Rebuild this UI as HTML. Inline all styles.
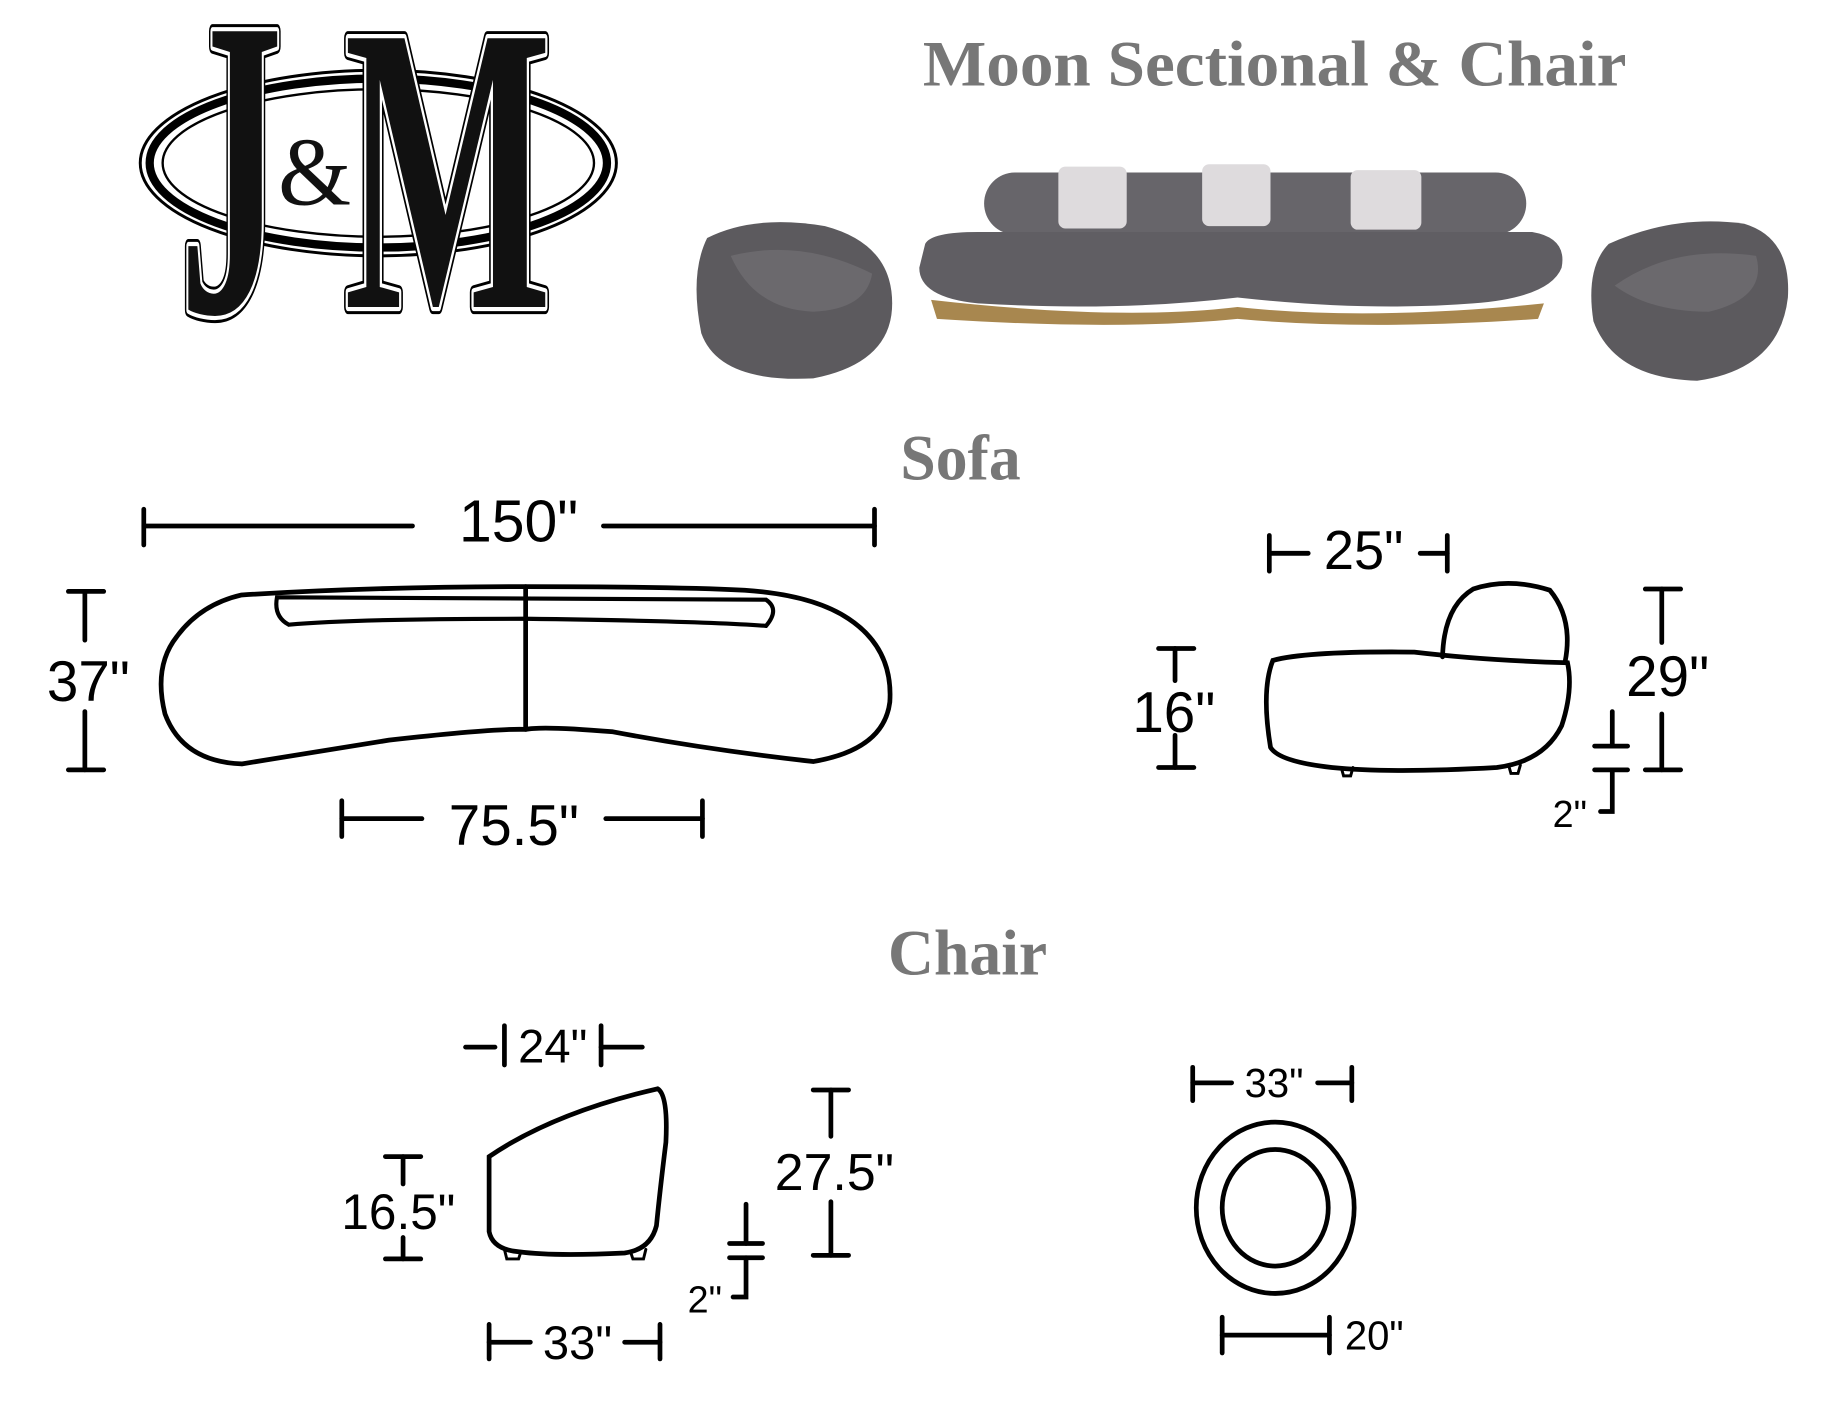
<!DOCTYPE html>
<html><head><meta charset="utf-8"><style>
html,body{margin:0;padding:0;background:#fff;}
svg{display:block}
</style></head><body>
<svg width="1848" height="1416" viewBox="0 0 1568 1190" preserveAspectRatio="none" xmlns="http://www.w3.org/2000/svg">
<rect width="1568" height="1190" fill="#fff"/>
<!-- Logo -->
<g>
<ellipse cx="321" cy="137" rx="202" ry="78" fill="#fff" stroke="#000" stroke-width="2.5"/>
<ellipse cx="321" cy="137" rx="194" ry="71" fill="none" stroke="#000" stroke-width="7"/>
<ellipse cx="321" cy="137" rx="183" ry="62" fill="#fff" stroke="#000" stroke-width="2"/>
<g font-family="Liberation Serif, serif" font-weight="bold">
<text x="152" y="262" font-size="360" textLength="88" lengthAdjust="spacingAndGlyphs" fill="#000" stroke="#000" stroke-width="12" stroke-linejoin="round">J</text>
<text x="152" y="262" font-size="360" textLength="88" lengthAdjust="spacingAndGlyphs" fill="#fff" stroke="#fff" stroke-width="7" stroke-linejoin="round">J</text>
<text x="152" y="262" font-size="360" textLength="88" lengthAdjust="spacingAndGlyphs" fill="#111">J</text>
<text x="292" y="258" font-size="345" textLength="176" lengthAdjust="spacingAndGlyphs" fill="#000" stroke="#000" stroke-width="12" stroke-linejoin="round">M</text>
<text x="292" y="258" font-size="345" textLength="176" lengthAdjust="spacingAndGlyphs" fill="#fff" stroke="#fff" stroke-width="7" stroke-linejoin="round">M</text>
<text x="292" y="258" font-size="345" textLength="176" lengthAdjust="spacingAndGlyphs" fill="#111">M</text>
</g>
<text x="236" y="172" font-family="Liberation Serif, serif" font-size="82" fill="#111" textLength="62" lengthAdjust="spacingAndGlyphs">&amp;</text>
</g>
<!-- Title -->
<text x="783" y="72" textLength="597" lengthAdjust="spacingAndGlyphs" font-family="Liberation Serif, serif" font-weight="bold" font-size="54" fill="#777">Moon Sectional &amp; Chair</text>
<!-- Photos -->
<g>
<path d="M600 200 Q640 180 700 190 Q757 205 757 255 Q757 305 690 318 Q610 322 595 280 Q585 230 600 200Z" fill="#5c5a5e"/>
<path d="M620 215 Q680 200 740 230 Q735 260 690 262 Q640 260 620 215Z" fill="#6b696d"/>
<path d="M1365 205 Q1420 180 1480 188 Q1520 200 1517 250 Q1510 310 1440 320 Q1370 318 1352 270 Q1345 225 1365 205Z" fill="#5c5a5e"/>
<path d="M1370 240 Q1420 205 1490 215 Q1500 250 1450 262 Q1400 262 1370 240Z" fill="#6b696d"/>
<rect x="835" y="145" width="460" height="52" rx="26" fill="#67656a"/>
<path d="M785 205 Q790 195 830 195 L1300 195 Q1330 200 1325 225 Q1315 250 1250 255 Q1160 262 1050 250 Q950 262 830 255 Q780 250 780 225Z" fill="#605e63"/>
<path d="M790 252 Q950 270 1050 258 Q1160 270 1310 255 L1305 268 Q1160 278 1050 268 Q950 278 795 268Z" fill="#a8874f"/>
<rect x="898" y="140" width="58" height="52" fill="#dedbdd" rx="6"/>
<rect x="1020" y="138" width="58" height="52" fill="#dedbdd" rx="6"/>
<rect x="1146" y="143" width="60" height="50" fill="#dedbdd" rx="6"/>
</g>
<g font-family="Liberation Serif, serif" font-weight="bold" fill="#777" text-anchor="middle">
<text x="815" y="403" font-size="54">Sofa</text>
<text x="821" y="819" font-size="54">Chair</text>
</g>
<g stroke="#000" stroke-width="4" fill="none" stroke-linecap="round">
<!-- 150 -->
<line x1="122" y1="428" x2="122" y2="458"/><line x1="742" y1="428" x2="742" y2="458"/>
<line x1="122" y1="442" x2="350" y2="442"/><line x1="512" y1="442" x2="742" y2="442"/>
<!-- sofa top -->
<path d="M205 500 Q320 493 446 493 Q570 493 632 496 Q690 500 720 520 Q758 545 755 590 Q750 630 690 640 Q600 630 520 615 Q460 610 446 613 Q420 612 330 622 Q250 635 205 642 Q155 640 140 600 Q130 560 150 535 Q170 508 205 500Z"/>
<path d="M235 502 L650 504 Q662 512 650 526 Q600 522 446 520 Q300 520 245 525 Q232 518 235 502Z" stroke-width="3.5"/>
<line x1="446" y1="493" x2="446" y2="613"/>
<!-- 37 -->
<line x1="58" y1="497" x2="88" y2="497"/><line x1="58" y1="647" x2="88" y2="647"/>
<line x1="72" y1="497" x2="72" y2="538"/><line x1="72" y1="598" x2="72" y2="647"/>
<!-- 75.5 -->
<line x1="290" y1="673" x2="290" y2="703"/><line x1="596" y1="673" x2="596" y2="703"/>
<line x1="290" y1="688" x2="358" y2="688"/><line x1="514" y1="688" x2="596" y2="688"/>
<!-- 25 -->
<line x1="1077" y1="450" x2="1077" y2="480"/><line x1="1228" y1="450" x2="1228" y2="480"/>
<line x1="1077" y1="465" x2="1110" y2="465"/><line x1="1205" y1="465" x2="1228" y2="465"/>
<!-- side sofa -->
<path d="M1224 552 Q1225 510 1250 495 Q1280 485 1315 496 Q1335 520 1328 556"/>
<path d="M1080 555 Q1110 547 1200 548 Q1260 555 1330 557 Q1335 580 1325 610 Q1310 640 1270 645 Q1180 650 1130 645 Q1085 640 1078 628 Q1070 580 1080 555Z"/>
<path d="M1138 645 L1140 652 L1146 652 L1148 645 M1280 643 L1282 650 L1288 650 L1290 643" stroke-width="2.5"/>
<!-- 29 -->
<line x1="1396" y1="495" x2="1426" y2="495"/><line x1="1396" y1="647" x2="1426" y2="647"/>
<line x1="1410" y1="495" x2="1410" y2="540"/><line x1="1410" y1="600" x2="1410" y2="647"/>
<!-- 16 -->
<line x1="983" y1="545" x2="1013" y2="545"/><line x1="983" y1="645" x2="1013" y2="645"/>
<line x1="997" y1="545" x2="997" y2="572"/><line x1="997" y1="618" x2="997" y2="645"/>
<!-- 2 side -->
<line x1="1353" y1="627" x2="1381" y2="627"/><line x1="1353" y1="647" x2="1381" y2="647"/>
<line x1="1368" y1="598" x2="1368" y2="627"/><path d="M1368 647 L1368 682 L1358 682"/>
<!-- 24 -->
<line x1="395" y1="880" x2="420" y2="880"/><line x1="428" y1="862" x2="428" y2="895"/>
<line x1="510" y1="862" x2="510" y2="895"/><line x1="510" y1="880" x2="545" y2="880"/>
<!-- chair side -->
<path d="M415 972 Q470 935 558 915 Q567 920 565 960 Q560 1000 557 1030 Q552 1050 530 1053 Q470 1056 440 1052 Q418 1050 415 1035 Z"/>
<path d="M428 1050 L430 1058 L440 1058 L442 1052 M535 1052 L537 1058 L546 1058 L548 1050" stroke-width="2.5"/>
<!-- 27.5 -->
<line x1="690" y1="916" x2="720" y2="916"/><line x1="690" y1="1055" x2="720" y2="1055"/>
<line x1="705" y1="916" x2="705" y2="955"/><line x1="705" y1="1010" x2="705" y2="1055"/>
<!-- 16.5 -->
<line x1="327" y1="972" x2="357" y2="972"/><line x1="327" y1="1058" x2="357" y2="1058"/>
<line x1="342" y1="972" x2="342" y2="995"/><line x1="342" y1="1040" x2="342" y2="1058"/>
<!-- 2 chair -->
<line x1="619" y1="1045" x2="647" y2="1045"/><line x1="619" y1="1057" x2="647" y2="1057"/>
<line x1="633" y1="1012" x2="633" y2="1045"/><path d="M633 1057 L633 1090 L622 1090"/>
<!-- 33 bottom -->
<line x1="415" y1="1113" x2="415" y2="1142"/><line x1="560" y1="1113" x2="560" y2="1142"/>
<line x1="415" y1="1128" x2="450" y2="1128"/><line x1="530" y1="1128" x2="560" y2="1128"/>
<!-- circles -->
<ellipse cx="1082" cy="1015" rx="67" ry="72"/>
<ellipse cx="1082" cy="1015" rx="45" ry="49"/>
<!-- 33 top -->
<line x1="1012" y1="897" x2="1012" y2="925"/><line x1="1147" y1="897" x2="1147" y2="925"/>
<line x1="1012" y1="910" x2="1045" y2="910"/><line x1="1118" y1="910" x2="1147" y2="910"/>
<!-- 20 -->
<line x1="1037" y1="1107" x2="1037" y2="1137"/><line x1="1128" y1="1107" x2="1128" y2="1137"/>
<line x1="1037" y1="1122" x2="1128" y2="1122"/>
</g>
<g font-family="Liberation Sans, sans-serif" fill="#000" text-anchor="middle">
<text x="440" y="455" font-size="50">150"</text>
<text x="75" y="589" font-size="48">37"</text>
<text x="436" y="710" font-size="48">75.5"</text>
<text x="1157" y="478" font-size="46">25"</text>
<text x="1415" y="585" font-size="48">29"</text>
<text x="996" y="615" font-size="48">16"</text>
<text x="1332" y="695" font-size="32">2"</text>
<text x="469" y="893" font-size="40">24"</text>
<text x="708" y="1000" font-size="44">27.5"</text>
<text x="338" y="1033" font-size="42">16.5"</text>
<text x="598" y="1103" font-size="32">2"</text>
<text x="490" y="1142" font-size="40">33"</text>
<text x="1081" y="922" font-size="34">33"</text>
<text x="1166" y="1134" font-size="34">20"</text>
</g>
</svg>
</body></html>
